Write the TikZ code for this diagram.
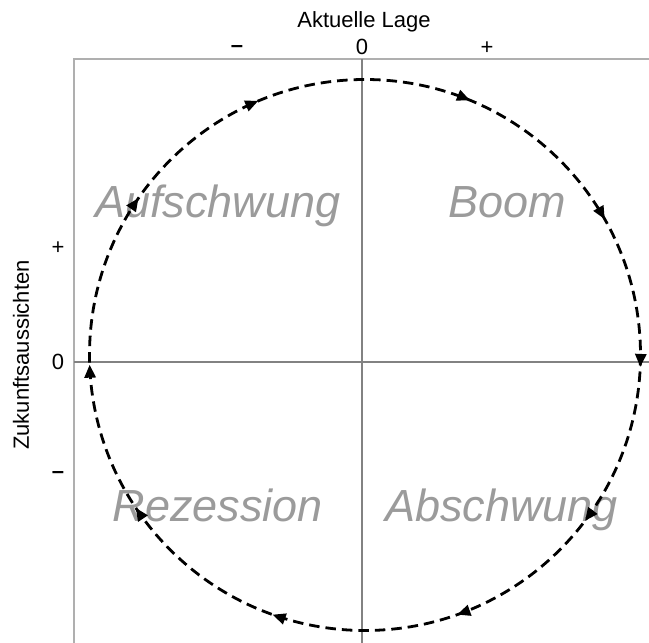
\documentclass[tikz,border=0pt]{standalone}
\usepackage{fontspec}
\setmainfont{Liberation Sans}
\usetikzlibrary{arrows.meta,decorations.markings}
\definecolor{labelgray}{RGB}{155,155,155}
\definecolor{axisgray}{RGB}{130,130,130}
\definecolor{framegray}{RGB}{175,175,175}
\tikzset{
  phase/.style={font=\fontsize{45}{54}\selectfont\itshape, text=labelgray, inner sep=0pt},
  axlabel/.style={font=\fontsize{22}{26}\selectfont, inner sep=0pt},
  axisline/.style={draw=axisgray, line width=1.1pt},
  frameline/.style={draw=framegray, line width=2.5pt},
  cycle/.style={draw=black, line width=2.8pt, dash pattern=on 10.5pt off 6pt},
  tip/.style={solid},
}
\begin{document}
\begin{tikzpicture}[x=1pt,y=1pt]
\useasboundingbox (0,0) rectangle (649,643);
% frame
\coordinate (tl) at (74,584);
\coordinate (tr) at (649,584);
\coordinate (bl) at (74,0);
\draw[frameline] (tr) -- (tl) -- (bl);
% axes
\coordinate (vtop) at (362,584);
\coordinate (vbot) at (362,0);
\coordinate (hleft) at (74,281);
\coordinate (hright) at (649,281);
\draw[axisline] (vtop) -- (vbot);
\draw[axisline] (hleft) -- (hright);
% axis labels
\node[axlabel] (xtitle) at (364,621) {Aktuelle Lage};
\node[axlabel] (xminus) at (237,594) {\textbf{–}};
\node[axlabel] (xzero) at (362,596) {0};
\node[axlabel] (xplus) at (487,595) {+};
\node[axlabel] (yplus) at (58,395) {+};
\node[axlabel] (yzero) at (58,281) {0};
\node[axlabel] (yminus) at (58,168) {\textbf{–}};
\node[axlabel, rotate=90] (ytitle) at (21,288) {Zukunftsaussichten};
% phase labels
\node[phase, anchor=base] (auf) at (218,425) {Aufschwung};
\node[phase, anchor=base] (boom) at (507,425) {Boom};
\node[phase, anchor=base] (rez) at (218,121) {Rezession};
\node[phase, anchor=base west] (ab) at (385,121) {Abschwung};
% cycle
\coordinate (c) at (365,288);
\draw[cycle, postaction={decorate},
  decoration={markings,
    mark=at position 0.0069 with {\arrow[tip]{Triangle[length=13pt,width=11pt]}},
    mark=at position 0.1028 with {\arrow[tip]{Triangle[length=13pt,width=11pt]}},
    mark=at position 0.1956 with {\arrow[tip]{Triangle[length=13pt,width=11pt]}},
    mark=at position 0.3044 with {\arrow[tip]{Triangle[length=13pt,width=11pt]}},
    mark=at position 0.4064 with {\arrow[tip]{Triangle[length=13pt,width=11pt]}},
    mark=at position 0.4944 with {\arrow[tip]{Triangle[length=13pt,width=11pt]}},
    mark=at position 0.5964 with {\arrow[tip]{Triangle[length=13pt,width=11pt]}},
    mark=at position 0.6867 with {\arrow[tip]{Triangle[length=13pt,width=11pt]}},
    mark=at position 0.8122 with {\arrow[tip]{Triangle[length=13pt,width=11pt]}},
    mark=at position 0.918 with {\arrow[tip]{Triangle[length=13pt,width=11pt]}}}]
  ([shift={(0:275.5)}]c) arc[start angle=0, end angle=-360, radius=275.5];
\end{tikzpicture}
\end{document}
